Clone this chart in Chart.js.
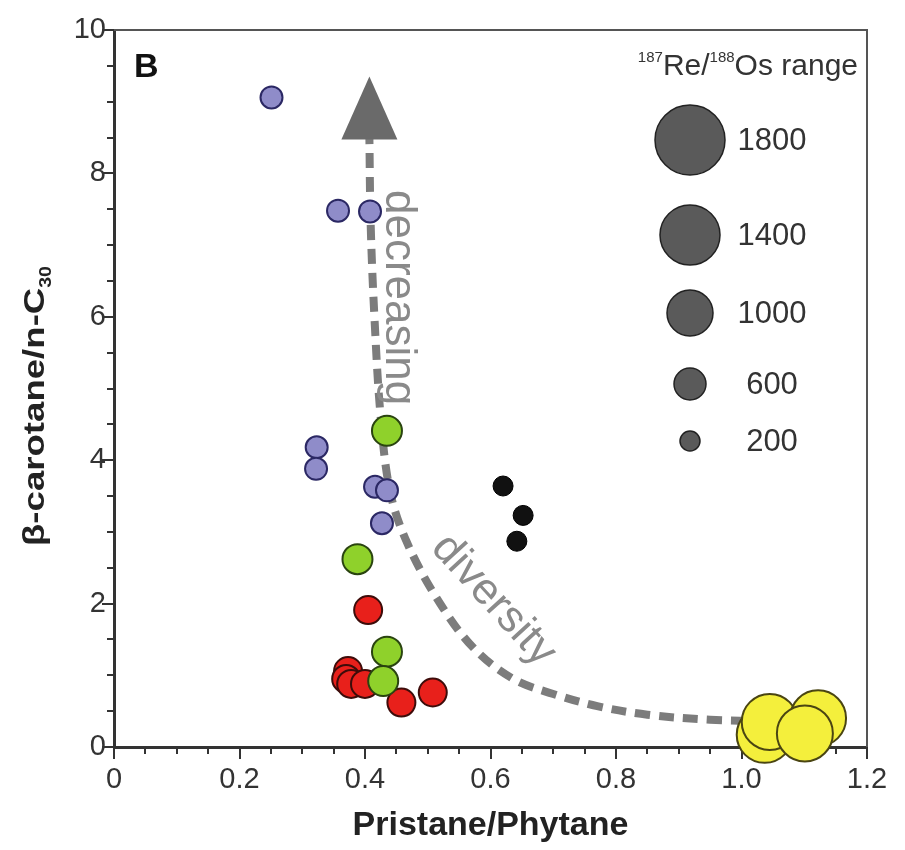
<!DOCTYPE html>
<html><head><meta charset="utf-8">
<script src="https://cdn.jsdelivr.net/npm/chart.js@4.4.0/dist/chart.umd.min.js"></script>
<style>html,body{margin:0;padding:0;background:#fff}#wrap{width:905px;height:850px;position:relative}</style>
</head><body><div id="wrap"><canvas id="c" width="905" height="850"></canvas></div>
<script>
// ---- data ----
const purpleX = [0.251, 0.357, 0.408, 0.323, 0.322, 0.416, 0.435, 0.427];
const purpleY = [9.06, 7.48, 7.47, 4.18, 3.88, 3.63, 3.58, 3.12];
const greenX  = [0.435, 0.388, 0.435, 0.429];
const greenY  = [4.41, 2.62, 1.33, 0.92];
const redX    = [0.405, 0.373, 0.370, 0.378, 0.400, 0.458, 0.508];
const redY    = [1.91, 1.06, 0.95, 0.88, 0.88, 0.62, 0.76];
const blackX  = [0.620, 0.652, 0.642];
const blackY  = [3.64, 3.23, 2.87];
const yellowX = [1.037, 1.045, 1.122, 1.101];
const yellowY = [0.17, 0.35, 0.40, 0.19];
// trend ("decreasing diversity") path
const trendX = [1.045, 0.95, 0.85, 0.77, 0.70, 0.636, 0.572, 0.514, 0.466, 0.440, 0.425, 0.415, 0.409, 0.407];
const trendY = [0.36, 0.38, 0.45, 0.57, 0.74, 0.95, 1.39, 2.08, 2.87, 3.56, 4.60, 6.00, 7.30, 8.50];
const arrowTipY = 9.35;
const sizeLegendValues = [1800, 1400, 1000, 600, 200];
const sizeLegendTitle = ['187', 'Re/', '188', 'Os range'];
const xTickLabels = ['0', '0.2', '0.4', '0.6', '0.8', '1.0', '1.2'];
const yTickLabels = ['0', '2', '4', '6', '8', '10'];
const xTitle = 'Pristane/Phytane';
const yTitleMain = 'β-carotane/n-C';
const yTitleSub = '30';
const panelLabel = 'B';

const zip = (xs, ys) => xs.map((x, i) => ({x, y: ys[i]}));
const FONT = "'Liberation Sans', Arial, sans-serif";

const extras = {
  id: 'extras',
  beforeDatasetsDraw(chart) {
    const {ctx, chartArea: a, scales: {x, y}} = chart;
    ctx.save();
    // top & right frame
    ctx.strokeStyle = '#555'; ctx.lineWidth = 2;
    ctx.beginPath();
    ctx.moveTo(a.left, a.top); ctx.lineTo(a.right, a.top); ctx.lineTo(a.right, a.bottom);
    ctx.stroke();
    // ticks
    ctx.strokeStyle = '#333'; ctx.lineWidth = 2;
    for (let i = 0; i <= 24; i++) {
      const v = i * 0.05; const px = Math.round(x.getPixelForValue(v));
      const major = i % 4 === 0;
      ctx.beginPath(); ctx.moveTo(px, a.bottom); ctx.lineTo(px, a.bottom + (major ? 12 : 7)); ctx.stroke();
    }
    for (let i = 0; i <= 20; i++) {
      const v = i * 0.5; const py = Math.round(y.getPixelForValue(v));
      const major = i % 4 === 0;
      ctx.beginPath(); ctx.moveTo(a.left, py); ctx.lineTo(a.left - (major ? 12 : 7), py); ctx.stroke();
    }
    ctx.restore();
  },
  afterDatasetsDraw(chart) {
    const {ctx, chartArea: a, scales: {x, y}} = chart;
    ctx.save();
    // arrow head
    const n = trendX.length - 1;
    const bx = x.getPixelForValue(trendX[n]), by = y.getPixelForValue(trendY[n]);
    const ty = y.getPixelForValue(arrowTipY);
    ctx.fillStyle = '#6a6a6a';
    ctx.beginPath(); ctx.moveTo(bx, ty); ctx.lineTo(bx - 28, by + 2); ctx.lineTo(bx + 28, by + 2); ctx.closePath(); ctx.fill();

    // panel letter
    ctx.fillStyle = '#111'; ctx.font = 'bold 34px ' + FONT; ctx.textBaseline = 'alphabetic'; ctx.textAlign = 'left';
    ctx.fillText(panelLabel, a.left + 20, a.top + 47);

    // annotations
    ctx.fillStyle = '#8a8a8a'; ctx.font = '44px ' + FONT;
    ctx.save(); ctx.translate(386, 190); ctx.rotate(Math.PI / 2); ctx.textAlign = 'left';
    ctx.fillText('decreasing', 0, 0); ctx.restore();
    ctx.save(); ctx.translate(430, 549); ctx.rotate(47.5 * Math.PI / 180); ctx.textAlign = 'left';
    ctx.fillText('diversity', 0, 0); ctx.restore();

    // size legend
    ctx.fillStyle = '#333'; ctx.textAlign = 'left'; ctx.textBaseline = 'alphabetic';
    const big = '30px ' + FONT, small = '15px ' + FONT;
    let widths = sizeLegendTitle.map((t, i) => { ctx.font = i % 2 === 0 ? small : big; return ctx.measureText(t).width; });
    let tx = 858 - widths.reduce((s, w) => s + w, 0);
    sizeLegendTitle.forEach((t, i) => {
      ctx.font = i % 2 === 0 ? small : big;
      ctx.fillText(t, tx, i % 2 === 0 ? 62 : 75);
      tx += widths[i];
    });
    const radii = [35, 30, 23, 16, 10];
    const cys = [140, 235, 313, 384, 441];
    sizeLegendValues.forEach((v, i) => {
      ctx.beginPath(); ctx.arc(690, cys[i], radii[i], 0, Math.PI * 2);
      ctx.fillStyle = '#5a5a5a'; ctx.fill(); ctx.lineWidth = 1.5; ctx.strokeStyle = '#222'; ctx.stroke();
      ctx.fillStyle = '#333'; ctx.font = '31px ' + FONT; ctx.textAlign = 'center'; ctx.textBaseline = 'middle';
      ctx.fillText(String(v), 772, cys[i] + 1);
    });

    // y title with subscript
    ctx.save();
    ctx.translate(44, 406); ctx.rotate(-Math.PI / 2); ctx.scale(1.22, 1);
    ctx.fillStyle = '#222'; ctx.textAlign = 'left'; ctx.textBaseline = 'alphabetic';
    ctx.font = 'bold 30px ' + FONT; const w1 = ctx.measureText(yTitleMain).width;
    ctx.font = 'bold 16px ' + FONT; const w2 = ctx.measureText(yTitleSub).width;
    const sx = -(w1 + w2) / 2;
    ctx.font = 'bold 30px ' + FONT; ctx.fillText(yTitleMain, sx, 0);
    ctx.font = 'bold 16px ' + FONT; ctx.fillText(yTitleSub, sx + w1, 7);
    ctx.restore();
    ctx.restore();
  }
};

const baseDs = (label, xs, ys, fill, stroke, r, bw) => ({
  label, data: zip(xs, ys), backgroundColor: fill, borderColor: stroke,
  pointRadius: r, pointHoverRadius: r, borderWidth: bw, pointBorderWidth: bw, showLine: false, clip: false
});

new Chart(document.getElementById('c'), {
  type: 'scatter',
  data: {
    datasets: [
      baseDs('Yellow', yellowX, yellowY, '#f4ef3c', '#4a4512', 28, 2),
      baseDs('Green', greenX, greenY, '#8fd12b', '#2a4410', 15, 2),
      baseDs('Red', redX, redY, '#e8201b', '#3d0c0a', 14, 2),
      baseDs('Purple', purpleX, purpleY, '#8f8cc9', '#2b2864', 11, 2),
      baseDs('Black', blackX, blackY, '#111111', '#000000', 10, 1),
      { label: 'Trend', data: zip(trendX, trendY), showLine: true, pointRadius: 0, borderColor: '#7c7c7c',
        borderWidth: 8, borderDash: [15, 9], tension: 0.35, fill: false, borderCapStyle: 'butt', clip: false }
    ]
  },
  options: {
    responsive: false, animation: false, devicePixelRatio: 1,
    layout: { padding: { left: 0, top: 25, right: 38, bottom: 0 } },
    plugins: { legend: { display: false }, tooltip: { enabled: false } },
    scales: {
      x: {
        type: 'linear', min: 0, max: 1.2,
        afterFit: s => { s.height = 103; },
        grid: { drawOnChartArea: false, drawTicks: false },
        border: { display: true, color: '#333', width: 3 },
        ticks: { stepSize: 0.2, padding: 16, color: '#333', font: { family: FONT, size: 29 },
          callback: (v, i) => xTickLabels[i] },
        title: { display: true, text: xTitle, color: '#222', font: { family: FONT, size: 34, weight: 'bold' }, padding: { top: 0 } }
      },
      y: {
        type: 'linear', min: 0, max: 10,
        afterFit: s => { s.width = 114; },
        grid: { drawOnChartArea: false, drawTicks: false },
        border: { display: true, color: '#333', width: 3 },
        ticks: { stepSize: 2, padding: 8, color: '#333', font: { family: FONT, size: 29 },
          callback: (v, i) => yTickLabels[i] }
      }
    }
  },
  plugins: [extras]
});
</script></body></html>
